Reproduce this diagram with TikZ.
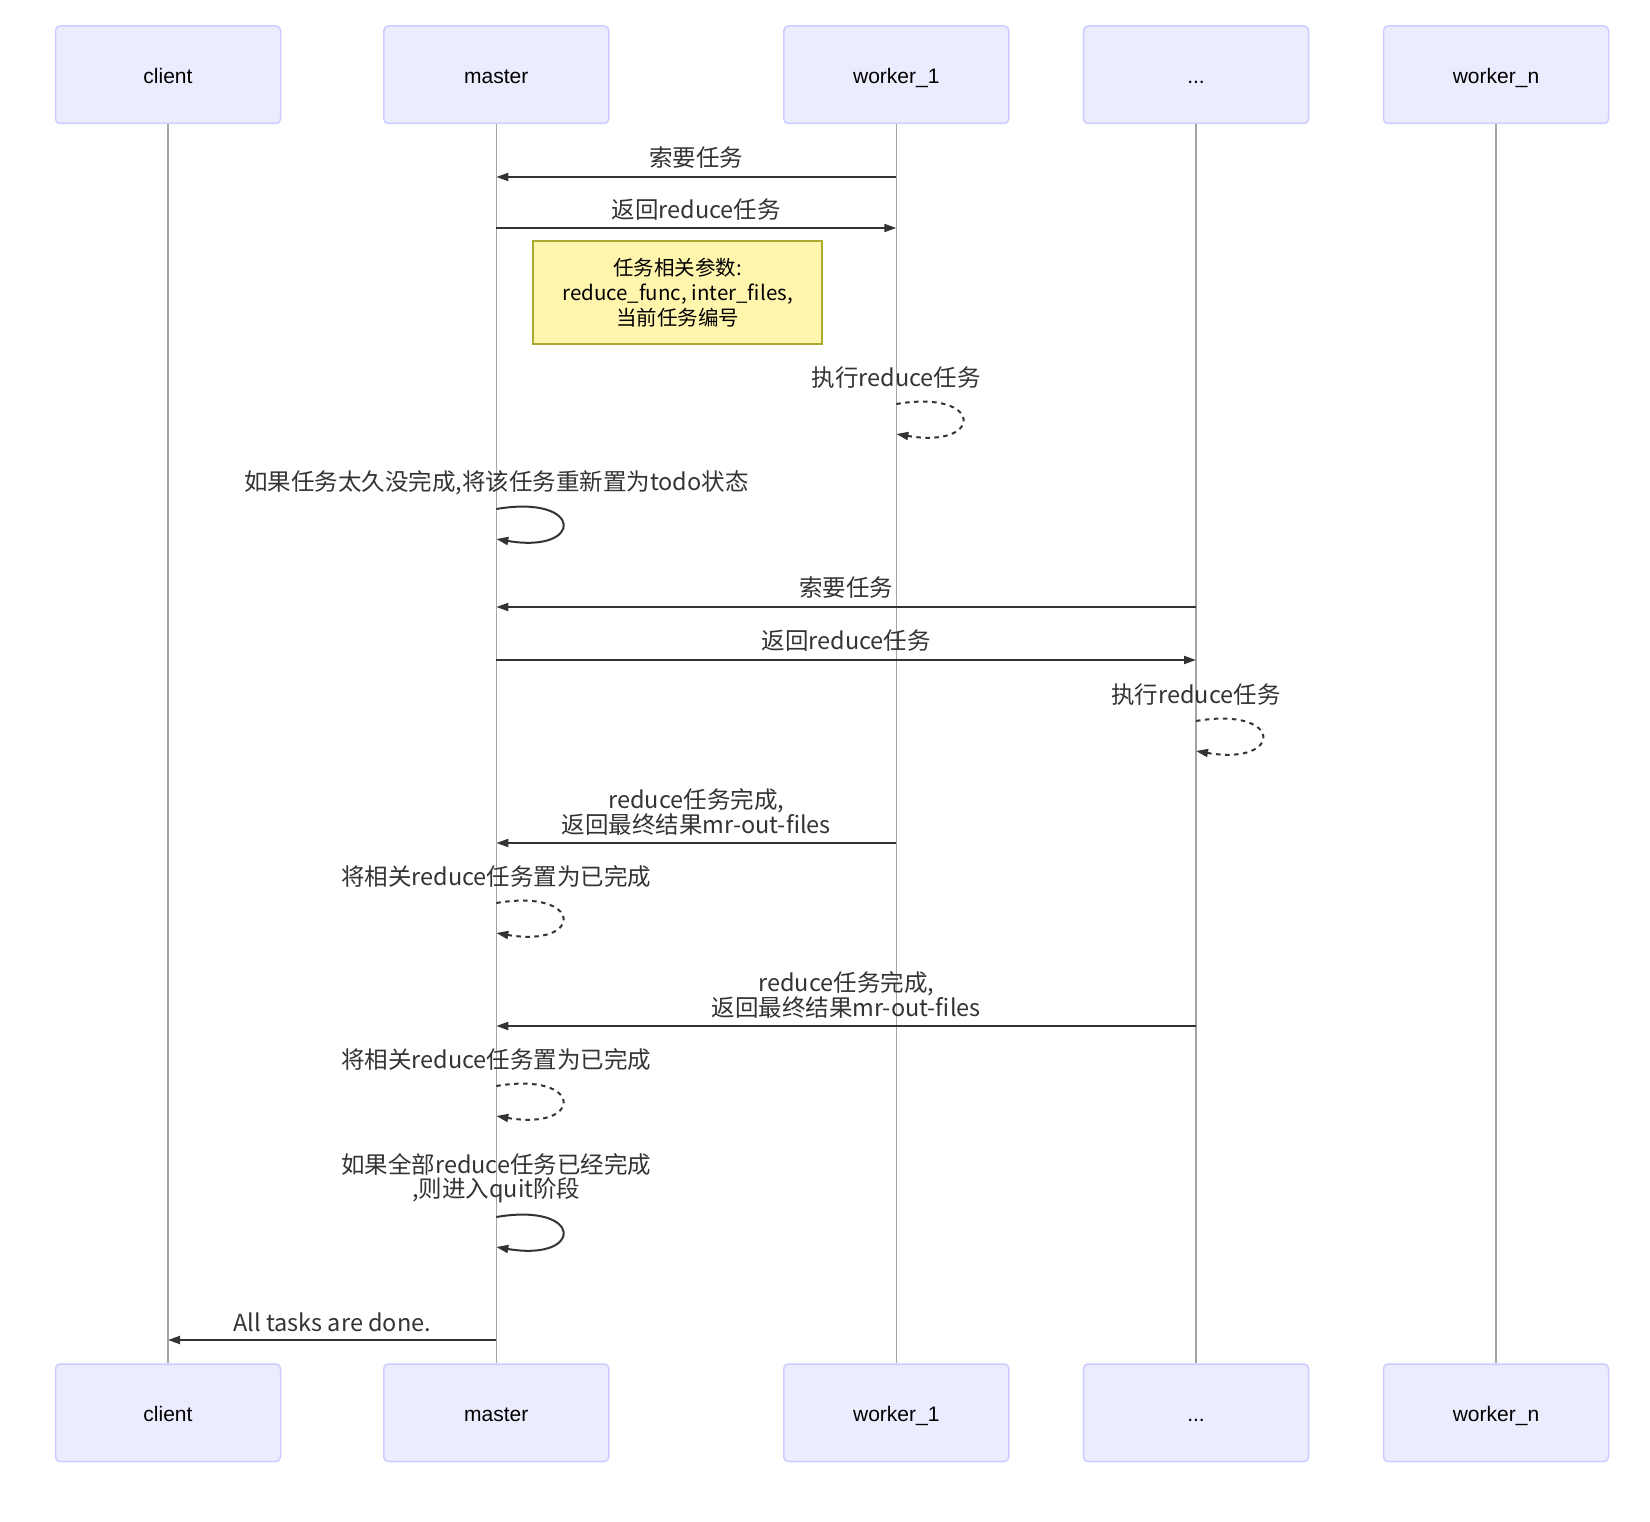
\documentclass[tikz,border=0pt]{standalone}
\usepackage{fontspec}
\setmainfont{Liberation Sans}
\newfontfamily\cjk{Noto Sans CJK SC}
\usetikzlibrary{arrows.meta}
\definecolor{actfill}{HTML}{ECECFF}
\definecolor{actdraw}{HTML}{CCCCFF}
\definecolor{notefill}{HTML}{FFF5AD}
\definecolor{notedraw}{HTML}{AAAA33}
\definecolor{msgc}{HTML}{333333}
\definecolor{lifec}{HTML}{A4A4A4}
\begin{document}
\begin{tikzpicture}[x=1pt,y=-1pt,
  actor/.style={draw=actdraw, fill=actfill, line width=1.5pt, rounded corners=4.5pt,
    minimum width=225pt, minimum height=97.5pt, inner sep=0pt,
    text height=17pt, text depth=0pt,
    font=\fontsize{21}{25}\selectfont, text=black},
  life/.style={draw=lifec, line width=1.2pt},
  msg/.style={draw=msgc, line width=2pt, -{Triangle[length=12pt,width=8pt]}},
  dmsg/.style={msg, dash pattern=on 4.5pt off 4.5pt},
  lbl/.style={font=\cjk\fontsize{23.5}{24}\selectfont, text=msgc, align=center, inner sep=0pt},
  notebox/.style={draw=notedraw, fill=notefill, line width=1.5pt, minimum width=289pt,
    minimum height=103pt, inner sep=0pt, align=center,
    font=\cjk\fontsize{20.5}{25}\selectfont, text=black}]
\useasboundingbox (0,0) rectangle (1650,1522);

% actors top
\node[actor] (cT)  at (168,74.75)   {client};
\node[actor] (mT)  at (496.3,74.75) {master};
\node[actor] (w1T) at (896.3,74.75) {worker\_1};
\node[actor] (dT)  at (1196,74.75)  {...};
\node[actor] (wnT) at (1496,74.75)  {worker\_n};
% actors bottom
\node[actor] (cB)  at (168,1412.75)   {client};
\node[actor] (mB)  at (496.3,1412.75) {master};
\node[actor] (w1B) at (896.3,1412.75) {worker\_1};
\node[actor] (dB)  at (1196,1412.75)  {...};
\node[actor] (wnB) at (1496,1412.75)  {worker\_n};

% lifelines
\draw[life] (cT.south) -- (cB.north);
\draw[life] (mT.south) -- (mB.north);
\draw[life] (w1T.south) -- (w1B.north);
\draw[life] (dT.south) -- (dB.north);
\draw[life] (wnT.south) -- (wnB.north);

% message endpoints
\coordinate (a1) at (896.3,177);  \coordinate (b1) at (496.3,177);
\coordinate (a2) at (496.3,228);  \coordinate (b2) at (896.3,228);
\coordinate (l4s) at (896.3,404); \coordinate (l4e) at (896.3,434);
\coordinate (l5s) at (496.3,509); \coordinate (l5e) at (496.3,539);
\coordinate (a6) at (1196,607);   \coordinate (b6) at (496.3,607);
\coordinate (a7) at (496.3,660);  \coordinate (b7) at (1196,660);
\coordinate (l8s) at (1196,721);  \coordinate (l8e) at (1196,751);
\coordinate (a9) at (896.3,843);  \coordinate (b9) at (496.3,843);
\coordinate (l10s) at (496.3,903); \coordinate (l10e) at (496.3,933);
\coordinate (a11) at (1196,1026); \coordinate (b11) at (496.3,1026);
\coordinate (l12s) at (496.3,1086); \coordinate (l12e) at (496.3,1116);
\coordinate (l13s) at (496.3,1217); \coordinate (l13e) at (496.3,1247);
\coordinate (a14) at (496.3,1340); \coordinate (b14) at (168,1340);

% messages
\node[lbl] (t1) at (696.3,158) {索要任务};
\draw[msg] (a1) -- (b1);
\node[lbl] (t2) at (696.3,210) {返回reduce任务};
\draw[msg] (a2) -- (b2);

\node[notebox] (note) at (677.5,292.5) {任务相关参数:\\reduce\_func, inter\_files,\\当前任务编号};

\node[lbl] (t4) at (896.3,378) {执行reduce任务};
\draw[dmsg] (l4s) .. controls +(88,-15) and +(88,15) .. (l4e);

\node[lbl] (t5) at (496.3,483) {如果任务太久没完成,将该任务重新置为todo状态};
\draw[msg] (l5s) .. controls +(88,-15) and +(88,15) .. (l5e);

\node[lbl] (t6) at (846.2,588) {索要任务};
\draw[msg] (a6) -- (b6);
\node[lbl] (t7) at (846.2,641) {返回reduce任务};
\draw[msg] (a7) -- (b7);

\node[lbl] (t8) at (1196,695) {执行reduce任务};
\draw[dmsg] (l8s) .. controls +(88,-15) and +(88,15) .. (l8e);

\node[lbl] (t9) at (696.3,812) {reduce任务完成,\\返回最终结果mr-out-files};
\draw[msg] (a9) -- (b9);

\node[lbl] (t10) at (496.3,877) {将相关reduce任务置为已完成};
\draw[dmsg] (l10s) .. controls +(88,-15) and +(88,15) .. (l10e);

\node[lbl] (t11) at (846.2,995) {reduce任务完成,\\返回最终结果mr-out-files};
\draw[msg] (a11) -- (b11);

\node[lbl] (t12) at (496.3,1060) {将相关reduce任务置为已完成};
\draw[dmsg] (l12s) .. controls +(88,-15) and +(88,15) .. (l12e);

\node[lbl] (t13) at (496.3,1178) {如果全部reduce任务已经完成\\,则进入quit阶段};
\draw[msg] (l13s) .. controls +(88,-15) and +(88,15) .. (l13e);

\node[lbl] (t14) at (332.2,1322) {All tasks are done.};
\draw[msg] (a14) -- (b14);
\end{tikzpicture}
\end{document}
